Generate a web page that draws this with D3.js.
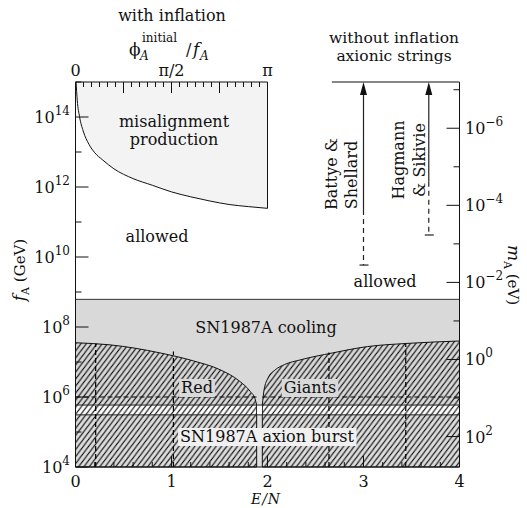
<!DOCTYPE html>
<html><head><meta charset="utf-8">
<script src="https://cdn.jsdelivr.net/npm/d3@7"></script>
<style>
body{margin:0;background:#fff}
svg text{font-family:"DejaVu Serif",serif;fill:#111;font-size:16px}
</style></head><body>
<svg id="c" width="527" height="508"></svg>
<script>
// ---------- data ----------
const enTicks = [0, 1, 2, 3, 4];
const fTickExps = [4, 6, 8, 10, 12, 14];          // f_A (GeV) = 10^exp
const mTickExps = [-6, -4, -2, 0, 2];             // m_A (eV) = 10^exp
const phiTickValues = [0, 0.5, 1];                // in units of pi
const phiTickLabels = ["0", "\u03c0/2", "\u03c0"];

// misalignment production boundary: phi/pi vs log10 f_A
const misPhi  = [0.003, 0.009, 0.021, 0.04, 0.07, 0.1, 0.142, 0.2, 0.3, 0.4, 0.5, 0.6, 0.7, 0.8, 0.9, 1.0];
const misLogF = [15.0, 14.48, 14.01, 13.6, 13.22, 12.98, 12.77, 12.52, 12.24, 12.05, 11.86, 11.72, 11.6, 11.5, 11.44, 11.39];

// red giant bound (left / right of the E/N ~ 1.92 cusp): E/N vs log10 f_A
const rgLeftEN   = [0, 0.36, 0.88, 1.23, 1.505, 1.71, 1.82, 1.87, 1.887];
const rgLeftLogF = [7.55, 7.49, 7.26, 7.03, 6.78, 6.45, 6.16, 5.95, 5.77];
const rgRightEN   = [1.946, 1.964, 2.005, 2.078, 2.18, 2.34, 2.68, 3.04, 3.45, 4.0];
const rgRightLogF = [5.77, 6.2, 6.54, 6.77, 6.93, 7.06, 7.26, 7.44, 7.53, 7.6];

// SN1987A bands (log10 f_A)
const coolingTopLogF = 8.79;
const coolingBottomLogF = 5.77;
const burstTopLogF = 5.49;

// dashed guide lines
const dashEN = [0.21, 1.02, 2.64, 3.44];
const dashTopLogF = [7.52, 7.3, 7.27, 7.53];
const dashHorizLogF = 6.0;

// axionic string bounds (log10 m_A in eV)
const stringNames = [["Battye &", "Shellard"], ["Hagmann", "& Sikivie"]];
const stringEN = [3.0, 3.68];
const stringSolidLogM = [-3.88, -4.61];
const stringDashLogM = [-2.45, -3.23];

// ---------- drawing ----------
const svg = d3.select("#c");
const x  = d3.scaleLinear().domain([0, 4]).range([75.5, 459.5]);
const y  = d3.scaleLog().domain([1e4, 1e15]).range([467, 82]);
const ym = d3.scaleLog().domain([Math.pow(10, -7.2), Math.pow(10, 2.79)]).range([82, 467]);
const xp = d3.scaleLinear().domain([0, Math.PI]).range([75.5, 267.5]);
const P = v => Math.pow(10, v);
const yTop = y(1e15), yBot = y(1e4), L = x(0), R = x(4);

const defs = svg.append("defs");
const pat = defs.append("pattern").attr("id", "hatch").attr("patternUnits", "userSpaceOnUse")
  .attr("width", 6).attr("height", 6).attr("patternTransform", "rotate(-8)");
pat.append("path").attr("d", "M-1,1 l2,-2 M0,6 l6,-6 M5,7 l2,-2")
  .attr("stroke", "#000").attr("stroke-width", 1.1);

// misalignment region
const misPts = misPhi.map((p, i) => [xp(p * Math.PI), y(P(misLogF[i]))]);
const lineGen = d3.line().curve(d3.curveMonotoneX);
svg.append("path")
  .attr("d", "M" + L + "," + yTop + "L" + misPts.map(p => p.join(",")).join("L") + "L" + xp(Math.PI) + "," + yTop + "Z")
  .attr("fill", "#f3f3f3").attr("stroke", "none");
svg.append("path").attr("d", lineGen(misPts)).attr("fill", "none").attr("stroke", "#111").attr("stroke-width", 1);
svg.append("line").attr("x1", xp(Math.PI)).attr("x2", xp(Math.PI)).attr("y1", yTop).attr("y2", y(P(misLogF[misLogF.length - 1])))
  .attr("stroke", "#111").attr("stroke-width", 1);

// SN1987A cooling and burst backgrounds
svg.append("rect").attr("x", L).attr("width", R - L)
  .attr("y", y(P(coolingTopLogF))).attr("height", y(P(coolingBottomLogF)) - y(P(coolingTopLogF)))
  .attr("fill", "#d9d9d9");
svg.append("rect").attr("x", L).attr("width", R - L)
  .attr("y", y(P(burstTopLogF))).attr("height", yBot - y(P(burstTopLogF)))
  .attr("fill", "#dedede");
svg.append("line").attr("x1", L).attr("x2", R).attr("y1", y(P(coolingTopLogF))).attr("y2", y(P(coolingTopLogF)))
  .attr("stroke", "#333").attr("stroke-width", 1);

// red giants hatched regions
const leftPts = rgLeftEN.map((e, i) => [x(e), y(P(rgLeftLogF[i]))]);
const rightPts = rgRightEN.map((e, i) => [x(e), y(P(rgRightLogF[i]))]);
const curveStr = pts => lineGen(pts).slice(1);
svg.append("path")
  .attr("d", "M" + L + "," + yBot + "L" + curveStr(leftPts) + "L" + leftPts[leftPts.length - 1][0] + "," + yBot + "Z")
  .attr("fill", "url(#hatch)").attr("stroke", "#111").attr("stroke-width", 1);
svg.append("path")
  .attr("d", "M" + rightPts[0][0] + "," + yBot + "L" + curveStr(rightPts) + "L" + R + "," + yBot + "Z")
  .attr("fill", "url(#hatch)").attr("stroke", "#111").attr("stroke-width", 1);

// white gap band between cooling and burst
svg.append("rect").attr("x", leftPts[leftPts.length-1][0] + 0.5).attr("width", rightPts[0][0] - leftPts[leftPts.length-1][0] - 1)
  .attr("y", y(P(coolingBottomLogF))).attr("height", y(P(burstTopLogF)) - y(P(coolingBottomLogF))).attr("fill", "#fff");
[coolingBottomLogF, burstTopLogF].forEach(v => {
  svg.append("line").attr("x1", L).attr("x2", R).attr("y1", y(P(v))).attr("y2", y(P(v)))
    .attr("stroke", "#222").attr("stroke-width", 1);
});

// dashed guides
dashEN.forEach((e, i) => {
  svg.append("line").attr("x1", x(e)).attr("x2", x(e)).attr("y1", yBot).attr("y2", y(P(dashTopLogF[i])))
    .attr("stroke", "#000").attr("stroke-width", 1.2).attr("stroke-dasharray", "5,3");
});
[[L, leftPts[leftPts.length-1][0]], [rightPts[0][0], R]].forEach(([a, b]) => {
  svg.append("line").attr("x1", a).attr("x2", b).attr("y1", y(P(dashHorizLogF))).attr("y2", y(P(dashHorizLogF)))
    .attr("stroke", "#000").attr("stroke-width", 1.2).attr("stroke-dasharray", "5,3");
});

// labels with boxes
function boxedLabel(txt, cx, by, fill) {
  const g = svg.append("g");
  const t = g.append("text").attr("x", cx).attr("y", by).attr("text-anchor", "middle").text(txt);
  const bb = t.node().getBBox();
  g.insert("rect", "text").attr("x", bb.x - 2).attr("y", bb.y + 1).attr("width", bb.width + 4).attr("height", bb.height - 1)
    .attr("fill", fill);
}
boxedLabel("Red", 197, 393, "#d9d9d9");
boxedLabel("Giants", 310, 393, "#d9d9d9");
boxedLabel("SN1987A axion burst", 267, 442, "#f0f0f0");

const label = (txt, cx, by, anchor) => svg.append("text").attr("x", cx).attr("y", by)
  .attr("text-anchor", anchor || "middle").text(txt);
label("misalignment", 174, 127);
label("production", 174, 145);
label("allowed", 157, 242);
label("allowed", 385, 287);
label("SN1987A cooling", 266, 333);
label("with inflation", 172, 21);
label("without inflation", 394, 43).style("font-size", "15.5px");
label("axionic strings", 394, 61).style("font-size", "15.5px");

// axionic strings arrows
stringEN.forEach((e, i) => {
  const xx = x(e);
  svg.append("line").attr("x1", xx).attr("x2", xx).attr("y1", yTop + 10).attr("y2", ym(P(stringSolidLogM[i])))
    .attr("stroke", "#222").attr("stroke-width", 1.2);
  svg.append("line").attr("x1", xx).attr("x2", xx).attr("y1", ym(P(stringSolidLogM[i]))).attr("y2", ym(P(stringDashLogM[i])))
    .attr("stroke", "#222").attr("stroke-width", 1.2).attr("stroke-dasharray", "5,4");
  svg.append("line").attr("x1", xx - 4).attr("x2", xx + 5).attr("y1", ym(P(stringDashLogM[i]))).attr("y2", ym(P(stringDashLogM[i])))
    .attr("stroke", "#222").attr("stroke-width", 1.2);
  svg.append("path").attr("d", `M${xx},${yTop}L${xx - 3.5},${yTop + 13}L${xx + 3.5},${yTop + 13}Z`).attr("fill", "#111");
});
const rot = [[[337, 174], [357, 175]], [[404, 160], [425, 160]]];
stringNames.forEach((lines, i) => {
  lines.forEach((t, j) => {
    svg.append("text").attr("transform", `translate(${rot[i][j][0]},${rot[i][j][1]}) rotate(-90)`)
      .attr("text-anchor", "middle").text(t);
  });
});

// ---------- axes ----------
const ax = svg.append("g").attr("stroke", "#111").attr("stroke-width", 1).attr("fill", "none");
ax.append("line").attr("x1", L).attr("x2", L).attr("y1", yTop).attr("y2", yBot);
ax.append("line").attr("x1", R).attr("x2", R).attr("y1", yTop).attr("y2", yBot);
ax.append("line").attr("x1", L).attr("x2", R).attr("y1", yBot).attr("y2", yBot);
ax.append("line").attr("x1", L).attr("x2", xp(Math.PI)).attr("y1", yTop).attr("y2", yTop);
ax.append("line").attr("x1", x(2.67)).attr("x2", R).attr("y1", yTop).attr("y2", yTop);

// left ticks
d3.range(4, 16).forEach(e => {
  const len = e % 2 === 0 ? 13 : 6;
  ax.append("line").attr("x1", L).attr("x2", L + len).attr("y1", y(P(e))).attr("y2", y(P(e)));
});
fTickExps.forEach(e => {
  const t = svg.append("text").attr("x", 70).attr("y", y(P(e)) + 6).attr("text-anchor", "end");
  t.append("tspan").text("10");
  t.append("tspan").attr("dy", -8).style("font-size", "12px").text(e);
});
// right ticks
d3.range(-7, 3).forEach(e => {
  const len = (e % 2 === 0) ? 13 : 6;
  ax.append("line").attr("x1", R).attr("x2", R - len).attr("y1", ym(P(e))).attr("y2", ym(P(e)));
});
mTickExps.forEach(e => {
  const t = svg.append("text").attr("x", 465).attr("y", ym(P(e)) + 6).attr("text-anchor", "start");
  t.append("tspan").text("10");
  t.append("tspan").attr("dy", -8).style("font-size", "12px").text(e < 0 ? "\u2212" + (-e) : e);
});
// bottom ticks
d3.range(0, 4.01, 0.2).forEach(v => {
  const major = Math.abs(v - Math.round(v)) < 1e-6;
  ax.append("line").attr("x1", x(v)).attr("x2", x(v)).attr("y1", yBot).attr("y2", yBot - (major ? 11 : 5));
});
enTicks.forEach(v => label(String(v), x(v), 487));
svg.append("text").attr("x", 266).attr("y", 504).attr("text-anchor", "middle")
  .style("font-style", "italic").style("font-size", "14px").style("letter-spacing", "1px").text("E/N");
// top ticks
d3.range(0, 25).forEach(k => {
  const major = k % 6 === 0;
  ax.append("line").attr("x1", xp(k * Math.PI / 24)).attr("x2", xp(k * Math.PI / 24))
    .attr("y1", yTop).attr("y2", yTop + (major ? 11 : 5));
});
phiTickValues.forEach((v, i) => label(phiTickLabels[i], xp(v * Math.PI), 76));
// top title: phi_A^initial / f_A
svg.append("text").attr("x", 129).attr("y", 55).style("font-size", "17px").text("\u03d5");
svg.append("text").attr("x", 140).attr("y", 60).style("font-size", "12px").style("font-style", "italic").text("A");
svg.append("text").attr("x", 142).attr("y", 42).style("font-size", "12px").text("initial");
svg.append("text").attr("x", 186).attr("y", 55).style("font-size", "16px").text("/");
svg.append("text").attr("x", 193).attr("y", 55).style("font-size", "17px").style("font-style", "italic").text("f");
svg.append("text").attr("x", 200).attr("y", 60).style("font-size", "12px").style("font-style", "italic").text("A");

// axis titles
const yl = svg.append("text").attr("transform", "translate(25,270) rotate(-90)").attr("text-anchor", "middle");
yl.append("tspan").style("font-style", "italic").style("font-size", "17px").text("f");
yl.append("tspan").attr("dy", 4).style("font-size", "11px").text("A");
yl.append("tspan").attr("dy", -4).style("font-size", "15px").text(" (GeV)");
const ml = svg.append("text").attr("transform", "translate(508,275) rotate(90)").attr("text-anchor", "middle");
ml.append("tspan").style("font-style", "italic").style("font-size", "17px").text("m");
ml.append("tspan").attr("dy", 4).style("font-size", "11px").text("A");
ml.append("tspan").attr("dy", -4).style("font-size", "15px").text(" (eV)");
</script>
</body></html>
